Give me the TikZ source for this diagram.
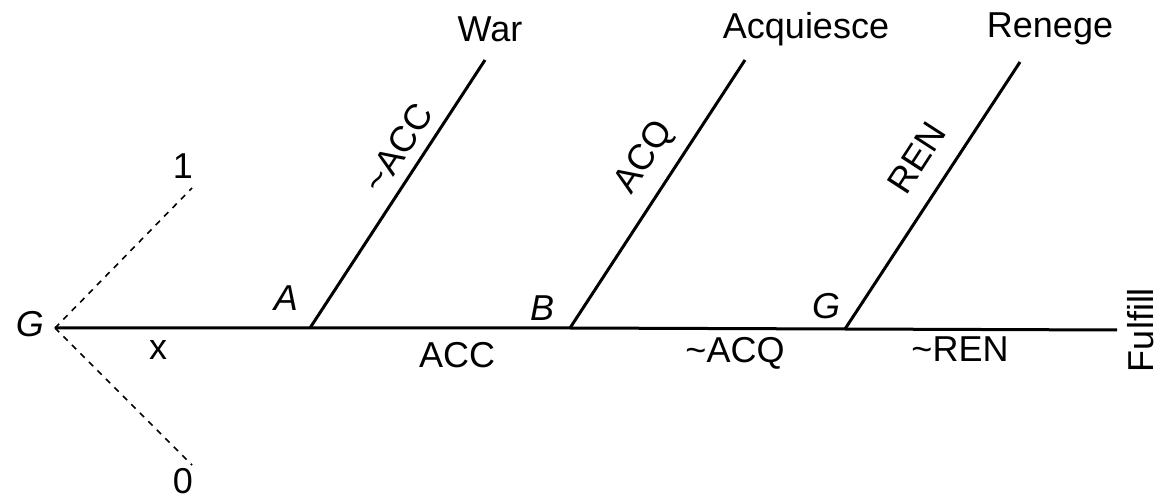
\documentclass[tikz,border=0pt]{standalone}
\usepackage{fontspec}
\setmainfont{Liberation Sans}
\begin{document}
\begin{tikzpicture}[x=0.5pt, y=0.5pt, font=\fontsize{18}{21}\selectfont,
    branche/.style={line width=1.5pt},
    hasard/.style={dashed, line width=0.8pt},
    lbl/.style={inner sep=1pt},
    joueur/.style={inner sep=1pt, font=\fontsize{18}{21}\selectfont\itshape}]
    \useasboundingbox (0,0) rectangle (1166,498);

    % Noeuds de decision
    \coordinate (G0) at (55, 170);
    \coordinate (A) at (310, 170);
    \coordinate (B) at (570, 170);
    \coordinate (G1) at (845, 169);
    \coordinate (F) at (1117, 168);
    \coordinate (W) at (485, 438);
    \coordinate (Q) at (745, 438);
    \coordinate (R) at (1020, 436);
    \coordinate (P1) at (192, 310);
    \coordinate (P0) at (192, 33);

    % Tirage initial
    \draw[hasard] (G0) -- (P1);
    \draw[hasard] (G0) -- (P0);

    % Branches
    \draw[branche] (G0) -- (A) -- (B) -- (G1) -- (F);
    \draw[branche] (A) -- (W);
    \draw[branche] (B) -- (Q);
    \draw[branche] (G1) -- (R);

    % Joueurs
    \node[joueur] (nG0) at (30, 174) {G};
    \node[joueur] (nA) at (286, 200) {A};
    \node[joueur] (nB) at (542, 190) {B};
    \node[joueur] (nG1) at (826, 192) {G};

    % Actions
    \node[lbl] (x) at (158, 148) {x};
    \node[lbl] (acc) at (457, 143) {ACC};
    \node[lbl] (nacq) at (735, 145) {\textasciitilde ACQ};
    \node[lbl] (nren) at (960, 149) {\textasciitilde REN};
    \node[lbl, rotate=57] (nacc) at (398, 350) {\textasciitilde ACC};
    \node[lbl, rotate=57] (acq) at (645, 340) {ACQ};
    \node[lbl, rotate=57] (ren) at (917, 340) {REN};
    \node[lbl] (un) at (183, 332) {1};
    \node[lbl] (zero) at (183, 17) {0};

    % Issues
    \node[lbl] (war) at (490, 469) {War};
    \node[lbl] (acqu) at (806, 469) {Acquiesce};
    \node[lbl] (reneg) at (1050, 469) {Renege};
    \node[lbl, rotate=90] (fulf) at (1141, 168) {Fulfill};
\end{tikzpicture}
\end{document}
